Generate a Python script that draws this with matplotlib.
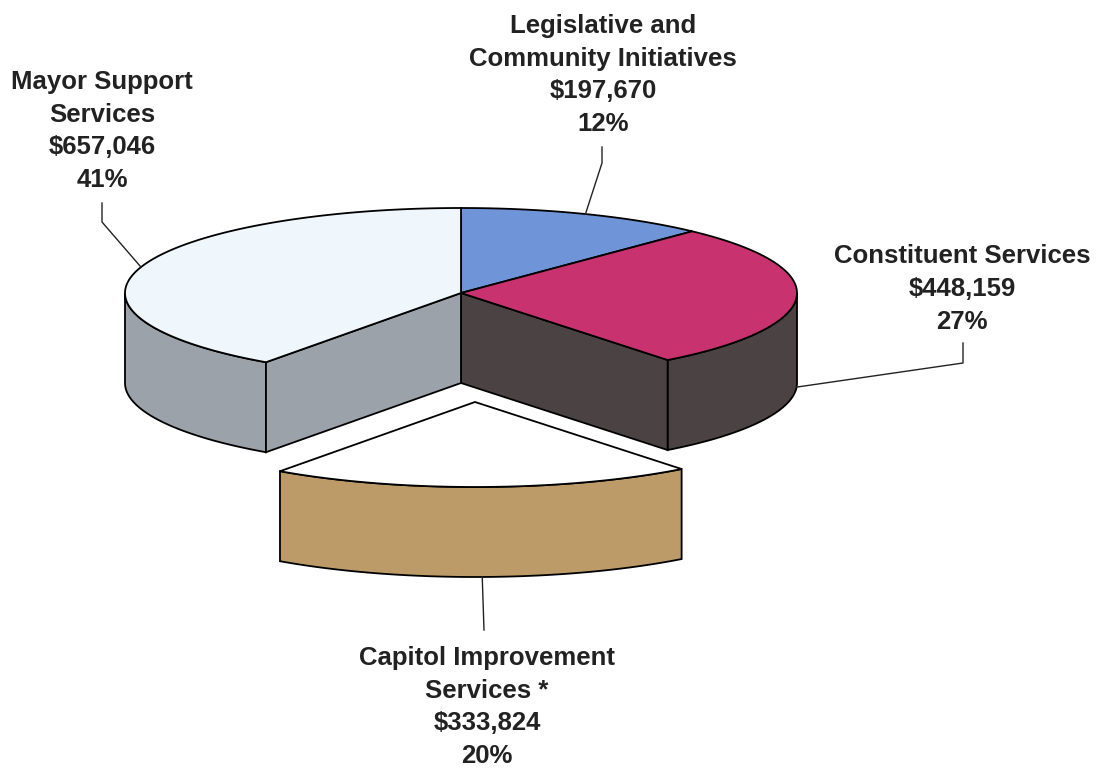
import numpy as np
import matplotlib.pyplot as plt
from matplotlib.patches import Polygon

plt.rcParams['font.family'] = ['Liberation Sans', 'DejaVu Sans']

# slices in drawing order, clockwise from 12 o'clock
names = ['Legislative and\nCommunity Initiatives', 'Constituent Services',
         'Capitol Improvement\nServices *', 'Mayor Support\nServices']
amounts = [197670, 448159, 333824, 657046]
percents = [12, 27, 20, 41]
top_colors = ['#6f95d8', '#c8336f', '#ffffff', '#eff7fc']
side_colors = ['#5a78b0', '#4b4343', '#bc9b68', '#9ba2aa']

# layout of the fake 3d pie (pixel space)
cx, cy, a, b, depth = 461, 293, 336, 85, 90
explode = {2: (14, 109)}

# label placement: text centre, elbow points, anchor on top or bottom rim
label_xy = [(603, 75), (962, 289), (487, 707), (102, 131)]
elbows = [[(602, 163), (602, 147)], [(963, 363), (963, 343)],
          [(484, 630)], [(102, 222), (102, 203)]]
anchor_bottom = [False, True, True, False]

fig = plt.figure(figsize=(11.03, 7.70), dpi=100)
ax = fig.add_axes([0, 0, 1, 1])
ax.set_xlim(0, 1103)
ax.set_ylim(770, 0)
ax.axis('off')

frac = np.array(amounts) / sum(amounts)
edges = 90 - 360 * np.concatenate([[0], np.cumsum(frac)])
LW = 1.3


def rim(t, off, z=0):
    t = np.radians(t)
    return np.column_stack([cx + off[0] + a * np.cos(t),
                            cy + off[1] - b * np.sin(t) + z])


def draw_slice(i, off):
    t_hi, t_lo = edges[i], edges[i + 1]
    # outer wall, front half only
    for shift in (0, -360):
        s0, s1 = max(t_lo, -180 + shift), min(t_hi, 0 + shift)
        if s1 > s0:
            ts = np.linspace(s0, s1, 80)
            wall = np.vstack([rim(ts, off), rim(ts[::-1], off, depth)])
            ax.add_patch(Polygon(wall, closed=True, fc=side_colors[i],
                                 ec='black', lw=LW, zorder=2))


def draw_radial(i, t, off):
    c = np.array([cx + off[0], cy + off[1]])
    p = rim([t], off)[0]
    face = [c, p, p + [0, depth], c + [0, depth]]
    ax.add_patch(Polygon(face, closed=True, fc=side_colors[i],
                         ec='black', lw=LW, zorder=2))


def draw_top(i, off, z):
    ts = np.linspace(edges[i], edges[i + 1], 120)
    c = np.array([[cx + off[0], cy + off[1]]])
    ax.add_patch(Polygon(np.vstack([c, rim(ts, off)]), closed=True,
                         fc=top_colors[i], ec='black', lw=LW, zorder=z))


n = len(amounts)
body = [i for i in range(n) if i not in explode]
for i in body:
    draw_slice(i, (0, 0))
    # faces left open by the exploded neighbour
    if (i + 1) % n in explode:
        draw_radial(i, edges[i + 1], (0, 0))
    if (i - 1) % n in explode:
        draw_radial(i, edges[i], (0, 0))
for i in body:
    draw_top(i, (0, 0), 3)
for i, off in explode.items():
    ts = np.linspace(edges[i + 1], edges[i], 80)
    wall = np.vstack([rim(ts, off), rim(ts[::-1], off, depth)])
    ax.add_patch(Polygon(wall, closed=True, fc=side_colors[i],
                         ec='black', lw=LW, zorder=4))
    draw_top(i, off, 5)

for i in range(n):
    off = explode.get(i, (0, 0))
    mid = (edges[i] + edges[i + 1]) / 2
    anc = rim([mid], off, depth if anchor_bottom[i] else 0)[0]
    pts = np.vstack([anc, elbows[i]])
    ax.plot(pts[:, 0], pts[:, 1], color='#222222', lw=1.0, zorder=6)
    txt = f'{names[i]}\n${amounts[i]:,}\n{percents[i]}%'
    ax.text(label_xy[i][0], label_xy[i][1], txt, ha='center', va='center',
            fontsize=18.5, fontweight='bold', color='#222222',
            linespacing=1.46, zorder=7)

fig.savefig('out.png', dpi=100, facecolor='white')
